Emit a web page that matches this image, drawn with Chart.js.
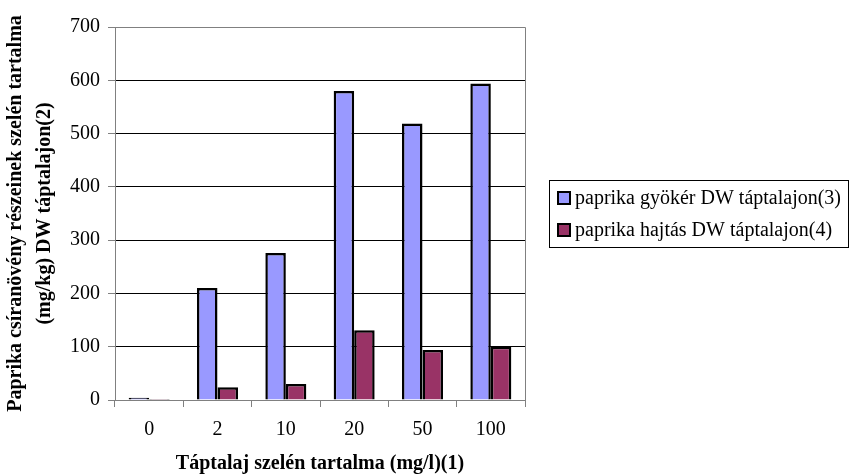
<!DOCTYPE html>
<html>
<head>
<meta charset="utf-8">
<script src="https://cdn.jsdelivr.net/npm/chart.js@4"></script>
<style>
  html, body { margin: 0; padding: 0; background: #ffffff; }
  #wrap { width: 850px; height: 476px; }
</style>
</head>
<body>
<div id="wrap"><canvas id="c" width="850" height="476"></canvas></div>
<script>
// Selenium concentration of the medium (mg/l)
const categories = ['0', '2', '10', '20', '50', '100'];
// Selenium content of pepper seedling parts (mg/kg DW)
const rootValues = [4, 210, 276, 580, 519, 594];
const shootValues = [2, 24, 30, 131, 94, 100];
const seriesNames = ['paprika gyökér DW táptalajon(3)', 'paprika hajtás DW táptalajon(4)'];
const yTitle = ['Paprika csíranövény részeinek szelén tartalma', '(mg/kg) DW táptalajon(2)'];
const xTitle = 'Táptalaj szelén tartalma (mg/l)(1)';

const FONT = "'Liberation Serif', 'Times New Roman', serif";
const GRAY = '#808080';

// Gray frame around the plot area
const frame = {
  id: 'frame',
  beforeDatasetsDraw(chart) {
    const { ctx, chartArea: a } = chart;
    ctx.save();
    ctx.strokeStyle = GRAY;
    ctx.lineWidth = 1;
    ctx.beginPath();
    ctx.moveTo(Math.round(a.left) + 0.5, Math.round(a.top) + 0.5);
    ctx.lineTo(Math.round(a.right) + 0.5, Math.round(a.top) + 0.5);
    ctx.lineTo(Math.round(a.right) + 0.5, Math.round(a.bottom) + 0.5);
    ctx.stroke();
    ctx.restore();
  }
};

// Boxed legend on the right
const boxedLegend = {
  id: 'boxedLegend',
  afterDraw(chart) {
    const { ctx } = chart;
    const box = { x: 549.5, y: 180.5, w: 299, h: 67 };
    const rows = [198, 230];
    ctx.save();
    ctx.strokeStyle = '#000';
    ctx.lineWidth = 1;
    ctx.strokeRect(box.x, box.y, box.w, box.h);
    ctx.font = '20px ' + FONT;
    ctx.textBaseline = 'middle';
    ctx.textAlign = 'left';
    chart.data.datasets.forEach((ds, i) => {
      const cy = rows[i];
      ctx.fillStyle = ds.backgroundColor;
      ctx.fillRect(558, cy - 6, 12, 12);
      ctx.lineWidth = 2;
      ctx.strokeStyle = '#000';
      ctx.strokeRect(558, cy - 6, 12, 12);
      ctx.fillStyle = '#000';
      ctx.fillText(ds.label, 575, cy + 1);
    });
    ctx.restore();
  }
};

new Chart(document.getElementById('c'), {
  type: 'bar',
  data: {
    labels: categories,
    datasets: [
      {
        label: seriesNames[0],
        data: rootValues,
        backgroundColor: '#9999FF',
        borderColor: '#000000',
        borderWidth: 2.5,
        categoryPercentage: 0.6,
        barPercentage: 1.0
      },
      {
        label: seriesNames[1],
        data: shootValues,
        backgroundColor: '#993366',
        borderColor: '#000000',
        borderWidth: 2.5,
        categoryPercentage: 0.6,
        barPercentage: 1.0
      }
    ]
  },
  options: {
    responsive: false,
    animation: false,
    layout: { padding: { top: 27, right: 325, left: 0, bottom: 0 } },
    plugins: {
      legend: { display: false },
      tooltip: { enabled: false }
    },
    scales: {
      x: {
        afterFit(scale) { scale.height = 76; },
        grid: {
          offset: true,
          drawOnChartArea: false,
          drawTicks: true,
          tickLength: 7,
          color: GRAY,
          tickColor: GRAY
        },
        border: { color: GRAY, width: 1 },
        ticks: {
          color: '#000',
          padding: 11,
          font: { family: FONT, size: 20 }
        },
        title: {
          display: true,
          text: xTitle,
          color: '#000',
          padding: { top: 0, bottom: 0 },
          font: { family: FONT, size: 20, weight: 'bold' }
        }
      },
      y: {
        min: 0,
        max: 700,
        afterFit(scale) { scale.width = 115; },
        grid: {
          drawTicks: true,
          tickLength: 7,
          color: (c) => (c.tick && c.tick.value === 700) ? GRAY : '#000000',
          tickColor: GRAY
        },
        border: { color: GRAY, width: 1 },
        ticks: {
          stepSize: 100,
          color: '#000',
          padding: 8,
          font: { family: FONT, size: 20 }
        },
        title: {
          display: true,
          text: yTitle,
          color: '#000',
          padding: { top: 1, bottom: 0 },
          font: { family: FONT, size: 20, weight: 'bold', lineHeight: 1.45 }
        }
      }
    }
  },
  plugins: [frame, boxedLegend]
});
</script>
</body>
</html>
